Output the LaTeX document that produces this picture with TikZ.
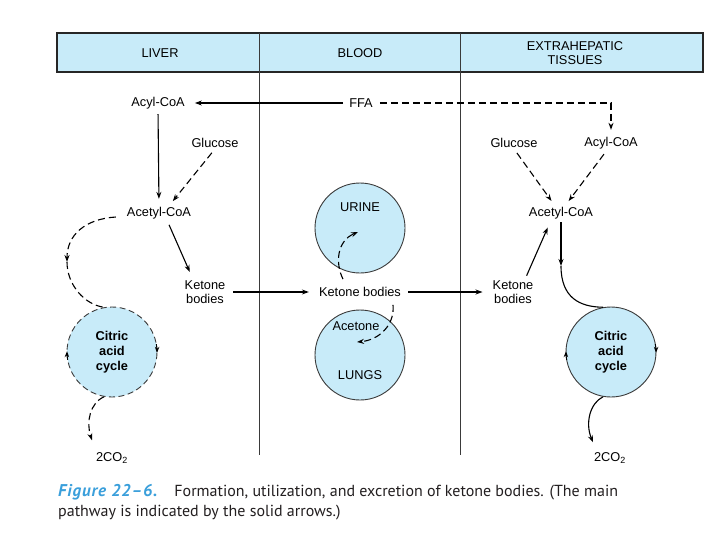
\documentclass[tikz,border=0pt]{standalone}
\usepackage{fontspec}
\setmainfont{Liberation Sans}
\newfontfamily\capfont{PT Sans}
\usetikzlibrary{arrows.meta}
\definecolor{lblue}{HTML}{C8EBF9}
\definecolor{capblue}{HTML}{3A9FDB}
\definecolor{edgegray}{HTML}{3A3A3A}
\definecolor{captext}{HTML}{231F20}
\begin{document}
\begin{tikzpicture}[x=1pt,y=-1pt,
  lbl/.style={font=\fontsize{12.8}{14}\selectfont, inner sep=1pt, align=center, text=black},
  arr/.style={-{Stealth[length=7pt,width=5pt]}, line width=1.1pt, black},
  darr/.style={arr, dash pattern=on 7pt off 4pt},
  dline/.style={line width=1.1pt, black, dash pattern=on 7pt off 4pt},
  sline/.style={line width=1.1pt, black},
  circ/.style={circle, minimum size=90pt, inner sep=0pt, fill=lblue, draw=edgegray, line width=0.9pt},
  ctip/.style={-{Stealth[length=6pt,width=4.5pt]}, line width=0.9pt, black},
  divider/.style={draw=edgegray, line width=0.9pt}
]
\useasboundingbox (0,0) rectangle (718,541);
\fill[white] (0,0) rectangle (718,541);

% header and column dividers
\draw[fill=lblue, line width=1.1pt, draw=black!85] (57,33) rectangle (703,72);
\path[divider] (259,33) -- (259,455);
\path[divider] (460,33) -- (460,455);
\node[lbl] (h1) at (160,53) {LIVER};
\node[lbl] (h2) at (360,53) {BLOOD};
\node[lbl, font=\fontsize{12.8}{13.5}\selectfont] (h3) at (575,53) {EXTRAHEPATIC\\TISSUES};

% circles
\node[circ, dash pattern=on 6pt off 3.5pt] (lcyc) at (112,352) {};
\node[lbl, font=\bfseries\fontsize{12.8}{15}\selectfont] (lcyct) at (112,352) {Citric\\acid\\cycle};
\node[circ] (urine) at (360,228) {};
\node[circ] (lungs) at (360,355) {};
\node[circ] (ecyc) at (611,352) {};
\node[lbl, font=\bfseries\fontsize{12.8}{15}\selectfont] (ecyct) at (611,352) {Citric\\acid\\cycle};
\node[lbl] (urinet) at (360,207) {URINE};
\node[lbl] (lungst) at (360,375) {LUNGS};
\node[lbl] (acetone) at (356,326) {Acetone};

% liver
\node[lbl] (lacyl) at (158,103) {Acyl-CoA};
\node[lbl] (ffa) at (361,103) {FFA};
\node[lbl] (lglu) at (215,143) {Glucose};
\node[lbl] (lacet) at (159,213) {Acetyl-CoA};
\node[lbl] (lket) at (205,292) {Ketone\\bodies};
\node[lbl] (lco2) at (112,458) {2CO\textsubscript{2}};

% blood
\node[lbl] (bket) at (360,292) {Ketone bodies};

% extrahepatic
\node[lbl] (eglu) at (514,143) {Glucose};
\node[lbl] (eacyl) at (611,143) {Acyl-CoA};
\node[lbl] (eacet) at (561,213) {Acetyl-CoA};
\node[lbl] (eket) at (513,292) {Ketone\\bodies};
\node[lbl] (eco2) at (610,458) {2CO\textsubscript{2}};

\coordinate (ljoin) at (67,262);
\coordinate (ejoin) at (561,266);

% liver connectors
\draw[arr, shorten <=5pt, shorten >=9pt] (ffa) -- (lacyl);
\draw[arr, shorten <=4pt, shorten >=7pt] (lacyl.south) -- (lacet.north);
\draw[darr, shorten <=5pt, shorten >=6pt] (lglu.south) -- ([xshift=10pt]lacet.north);
\draw[arr, shorten <=5pt, shorten >=8pt] ([xshift=8pt]lacet.south) -- ([xshift=-12pt]lket.north);
\draw[darr] ([shift={(-10,4)}]lacet.west) .. controls (85,219) and (67,235) .. (ljoin);
\draw[dline] (ljoin) .. controls (67,285) and (85,305) .. (lcyc.100);
\draw[darr] (lcyc.260) .. controls (90,403) and (86,422) .. ([shift={(-20,-11)}]lco2.north);
\draw[ctip] ([shift={(-10:45)}]lcyc.center) arc[start angle=-10, end angle=1, radius=45];
\draw[ctip] ([shift={(170:45)}]lcyc.center) arc[start angle=170, end angle=181, radius=45];

% liver -> blood -> extrahepatic
\draw[arr, shorten <=7pt, shorten >=9pt] (lket.east |- bket) -- (bket.west);
\draw[arr, shorten <=6pt, shorten >=9pt] (bket.east) -- (eket.west |- bket);

% blood side arrows
\draw[darr] ([shift={(-17,-7)}]bket.north) .. controls (335,263) and (337,241) .. ([shift={(-2,4)}]urine.center);
\draw[darr] ([shift={(33,7)}]bket.south) .. controls (395,325) and (379,340) .. ([shift={(-3,-13)}]lungs.center);

% FFA to extrahepatic acyl-CoA
\draw[darr, shorten <=6pt, shorten >=6pt] (ffa.east) -- (ffa.east -| eacyl) -- (eacyl.north);

% extrahepatic connectors
\draw[darr, shorten <=5pt, shorten >=6pt] (eglu.south) -- ([xshift=-6pt]eacet.north);
\draw[darr, shorten <=5pt, shorten >=6pt] ([xshift=-4pt]eacyl.south) -- ([xshift=4pt]eacet.north);
\draw[arr, shorten <=4pt, shorten >=8pt] ([xshift=12pt]eket.north) -- ([xshift=-10pt]eacet.south);
\draw[arr, shorten <=2pt] (eacet.south) -- (ejoin);
\draw[sline] (ejoin) .. controls (561,298) and (580,307) .. (ecyc.100);
\draw[arr] (ecyc.260) .. controls (590,403) and (585,423) .. ([shift={(-17,-9)}]eco2.north);
\draw[ctip] ([shift={(-10:45)}]ecyc.center) arc[start angle=-10, end angle=1, radius=45];
\draw[ctip] ([shift={(170:45)}]ecyc.center) arc[start angle=170, end angle=181, radius=45];

% caption
\node[anchor=base west, inner sep=0pt, text=captext, font=\capfont\fontsize{16}{20}\selectfont] (cap1) at (58,496)
  {\textcolor{capblue}{\bfseries\itshape\fontsize{17}{20}\selectfont\addfontfeature{LetterSpace=5}Figure 22–6.}\hspace{17pt}Formation, utilization, and excretion of ketone bodies. (The main};
\node[anchor=base west, inner sep=0pt, text=captext, font=\capfont\fontsize{16}{20}\selectfont] (cap2) at (58,516)
  {pathway is indicated by the solid arrows.)};
\end{tikzpicture}
\end{document}
